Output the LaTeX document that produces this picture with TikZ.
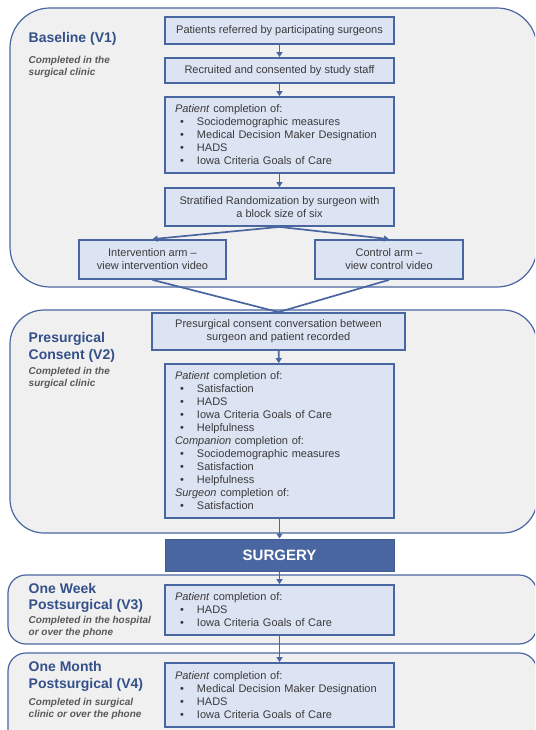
\documentclass[tikz,border=0pt]{standalone}
\usepackage{fontspec}
\setmainfont{Liberation Sans}
\usepackage{xcolor}
\usetikzlibrary{arrows.meta}
\definecolor{bdr}{HTML}{4A66A0}
\definecolor{boxfill}{HTML}{DCE3F3}
\definecolor{panelfill}{HTML}{F0F0F0}
\definecolor{hdrblue}{HTML}{34508A}
\definecolor{txt}{HTML}{3A3A3A}
\definecolor{subgray}{HTML}{595959}
\tikzset{
  panel/.style    = {draw=bdr, fill=panelfill, line width=1.2pt},
  box/.style      = {draw=bdr, fill=boxfill, line width=1.8pt, text=txt, align=center, inner sep=0pt,
                     font=\fontsize{11}{13}\selectfont},
  listbox/.style  = {box, align=left},
  surgbox/.style  = {draw=bdr!90!black, fill=bdr, line width=1pt, text=white, inner sep=0pt,
                     font=\fontsize{15}{18}\selectfont\bfseries},
  hdr/.style      = {font=\fontsize{14}{17}\selectfont\bfseries, text=hdrblue, anchor=base west, inner sep=0pt},
  sub/.style      = {font=\fontsize{10}{12}\selectfont\bfseries\itshape, text=subgray, anchor=base west, inner sep=0pt},
  arrowto/.style  = {-{Triangle[length=5pt,width=6pt]}, draw=bdr, line width=1.7pt},
  joinline/.style = {draw=bdr, line width=1.7pt},
}
\newcommand{\itm}[1]{\\\hspace*{5pt}\makebox[17pt][l]{\textbullet}#1}

\begin{document}
\begin{tikzpicture}[x=1pt,y=-1pt]
  \path[use as bounding box, clip] (0,0) rectangle (535,730);
  \fill[white] (0,0) rectangle (535,730);

  % phase panels
  \draw[panel, rounded corners=40pt] (10,8) rectangle (537,287);
  \draw[panel, rounded corners=34pt] (10,310) rectangle (537,533);
  \draw[panel, rounded corners=18pt] (8,575) rectangle (537,644);
  \draw[panel, rounded corners=18pt] (8,653) rectangle (537,760);

  % phase titles
  \foreach \txt/\y [count=\i] in {{Baseline (V1)}/43, {Presurgical}/342, {Consent (V2)}/359,
      {One Week}/593, {Postsurgical (V3)}/609, {One Month}/671, {Postsurgical (V4)}/688}
    \node[hdr] (hdr\i) at (28.5,\y) {\txt};
  \foreach \txt/\y [count=\i] in {{Completed in the}/64, {surgical clinic}/76,
      {Completed in the}/374, {surgical clinic}/386,
      {Completed in the hospital}/623, {or over the phone}/635,
      {Completed in surgical}/705, {clinic or over the phone}/717}
    \node[sub] (sub\i) at (28.5,\y) {\txt};

  % baseline
  \node[box, minimum width=229pt, minimum height=27pt] (referred) at (279.5,30.5)
    {Patients referred by participating surgeons};
  \node[box, minimum width=229pt, minimum height=25pt] (recruited) at (279.5,70.5)
    {Recruited and consented by study staff};
  \node[listbox, minimum width=229pt, minimum height=76pt, text width=209pt] (baseline) at (279.5,135)
    {\textit{Patient} completion of:\itm{Sociodemographic measures}\itm{Medical Decision Maker Designation}%
     \itm{HADS}\itm{Iowa Criteria Goals of Care}};
  \node[box, minimum width=229pt, minimum height=38pt] (random) at (279.5,207)
    {Stratified Randomization by surgeon with\\a block size of six};
  \node[box, minimum width=147pt, minimum height=39pt] (interv) at (152.5,259.5)
    {Intervention arm --\\view intervention video};
  \node[box, minimum width=148pt, minimum height=39pt] (control) at (389,259.5)
    {Control arm --\\view control video};

  % presurgical consent
  \node[box, minimum width=253pt, minimum height=37pt] (consent) at (278.5,331.5)
    {Presurgical consent conversation between\\surgeon and patient recorded};
  \node[listbox, minimum width=229pt, minimum height=154pt, text width=209pt] (presurg) at (279.5,441)
    {\textit{Patient} completion of:\itm{Satisfaction}\itm{HADS}\itm{Iowa Criteria Goals of Care}\itm{Helpfulness}\\
     \textit{Companion} completion of:\itm{Sociodemographic measures}\itm{Satisfaction}\itm{Helpfulness}\\
     \textit{Surgeon} completion of:\itm{Satisfaction}};

  \node[surgbox, minimum width=229pt, minimum height=32pt] (surgery) at (279.5,555) {SURGERY};

  % postsurgical
  \node[listbox, minimum width=229pt, minimum height=50pt, text width=209pt] (week) at (279.5,610)
    {\textit{Patient} completion of:\itm{HADS}\itm{Iowa Criteria Goals of Care}};
  \node[listbox, minimum width=229pt, minimum height=64pt, text width=209pt] (month) at (279.5,695)
    {\textit{Patient} completion of:\itm{Medical Decision Maker Designation}\itm{HADS}\itm{Iowa Criteria Goals of Care}};

  % connectors
  \draw[arrowto] (referred) -- (recruited);
  \draw[arrowto] (recruited) -- (baseline);
  \draw[arrowto] (baseline) -- (random);
  \draw[arrowto] (random.south) -- (interv.north);
  \draw[arrowto] (random.south) -- (control.north);
  \draw[joinline] (interv.south) -- (consent.north);
  \draw[joinline] (control.south) -- (consent.north);
  \draw[arrowto] (consent) -- (presurg);
  \draw[arrowto] (presurg) -- (surgery);
  \draw[arrowto] (surgery) -- (week);
  \draw[arrowto] (week) -- (month);
\end{tikzpicture}
\end{document}
